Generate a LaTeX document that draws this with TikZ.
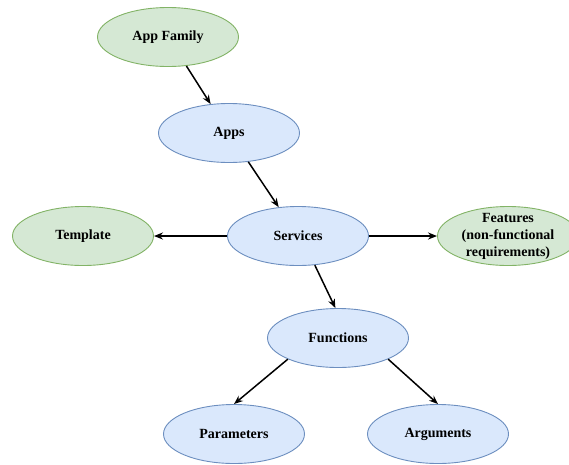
\documentclass[tikz,border=0pt]{standalone}
\usepackage{fontspec}
\setmainfont{Liberation Serif}
\usepackage{xcolor}
\definecolor{BlueFill}{HTML}{DAE8FC}
\definecolor{BlueLine}{HTML}{6C8EBF}
\definecolor{GreenFill}{HTML}{D5E8D4}
\definecolor{GreenLine}{HTML}{82B366}
\usepackage{tikz}
\usetikzlibrary{shapes.geometric,arrows.meta}

\begin{document}
\begin{tikzpicture}[x=1pt,y=-1pt,
    blueell/.style={ellipse,draw=BlueLine,fill=BlueFill,line width=0.9pt,
        minimum width=141pt,minimum height=59pt,inner sep=0pt,
        font=\fontsize{14}{17}\selectfont\bfseries},
    greenell/.style={blueell,draw=GreenLine,fill=GreenFill},
    link/.style={-{Stealth[length=9pt,width=7pt]},line width=1.5pt}]
            \useasboundingbox (0,0) rectangle (569,464);
            \node[greenell] (af) at (168,37) {App Family};
            \node[blueell] (apps) at (229,133) {Apps};
            \node[blueell] (sv) at (298,236) {Services};
            \node[greenell] (tpl) at (83,236) {Template};
            \node[greenell] (feat) at (508,236) {};
            \node[font=\fontsize{14}{17}\selectfont\bfseries,align=center] (featlbl) at (feat) {Features\\(non-functional\\requirements)};
            \node[blueell] (fn) at (338,338) {Functions};
            \node[blueell] (par) at (234,434) {Parameters};
            \node[blueell] (arg) at (438,434) {Arguments};
            \draw[link] (af) -- (apps);
            \draw[link] (apps) -- (sv);
            \draw[link] (sv) -- (tpl);
            \draw[link] (sv) -- (feat);
            \draw[link] (sv.-60) -- (fn.95);
            \draw[link] (fn.south west) -- (par.north);
            \draw[link] (fn.south east) -- (arg.north);
        \end{tikzpicture}
\end{document}
